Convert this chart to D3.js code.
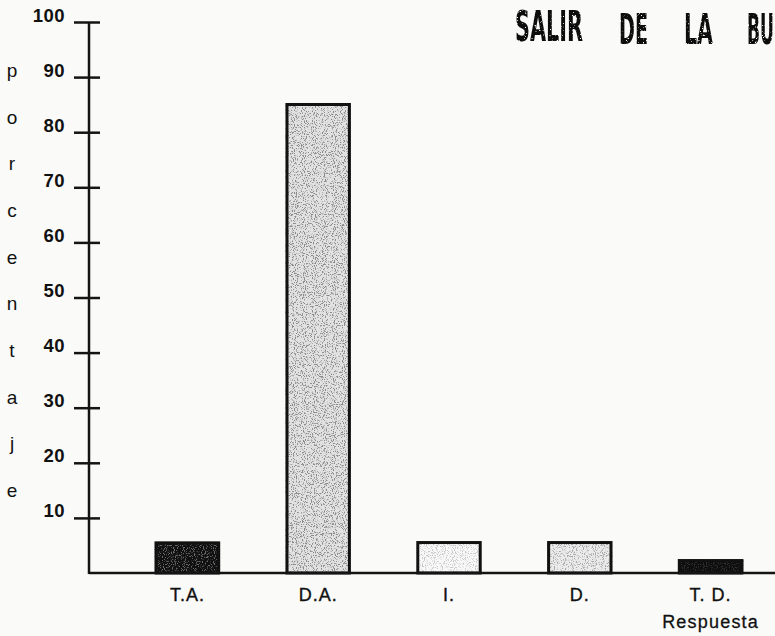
<!DOCTYPE html>
<html>
<head>
<meta charset="utf-8">
<script src="https://cdn.jsdelivr.net/npm/d3@7/dist/d3.min.js"></script>
<style>
  html, body { margin: 0; padding: 0; background: #fafaf8; }
  svg { display: block; }
  text { font-family: "Liberation Sans", Arial, sans-serif; fill: #111; }
</style>
</head>
<body>
<svg id="chart" width="775" height="636"></svg>
<script>
// Answer categories and their percentages
const categories = ["T.A.", "D.A.", "I.", "D.", "T. D."];
const values = [5.7, 85.3, 5.8, 5.8, 2.5];
const yTicks = [10, 20, 30, 40, 50, 60, 70, 80, 90, 100];
const yTitleLetters = ["p", "o", "r", "c", "e", "n", "t", "a", "j", "e"];
const xTitle = "Respuesta";
const titleWords = ["SALIR", "DE", "LA", "BU"];

// Styling for each bar (fill tone and stipple tone)
const barFills = ["#101010", "#e2e2e2", "#f8f8f8", "#ebebeb", "#0e0e0e"];
const stippleTone = ["#6a6a6a", "#8a8a8a", "#c8c8c8", "#a8a8a8", "#303030"];

const W = 775, H = 636;
const axisX = 89;
const svg = d3.select("#chart");

// Filters: speckled print for the heading and stipple for the bar fills
const defs = svg.append("defs");
const grunge = defs.append("filter").attr("id", "grunge")
  .attr("x", "-5%").attr("y", "-5%").attr("width", "110%").attr("height", "110%");
grunge.append("feTurbulence").attr("type", "fractalNoise")
  .attr("baseFrequency", "0.6").attr("numOctaves", 2).attr("seed", 7).attr("result", "noise");
grunge.append("feColorMatrix").attr("in", "noise").attr("type", "matrix")
  .attr("values", "0 0 0 0 1  0 0 0 0 1  0 0 0 0 1  9 0 0 0 -5.8").attr("result", "holes");
grunge.append("feComposite").attr("in", "SourceGraphic").attr("in2", "holes").attr("operator", "out");

const stip = defs.append("filter").attr("id", "stipple")
  .attr("x", "0").attr("y", "0").attr("width", "1").attr("height", "1");
stip.append("feTurbulence").attr("type", "fractalNoise")
  .attr("baseFrequency", "0.9").attr("numOctaves", 2).attr("seed", 3).attr("result", "noise");
stip.append("feColorMatrix").attr("in", "noise").attr("type", "matrix")
  .attr("values", "0 0 0 0 0  0 0 0 0 0  0 0 0 0 0  7 0 0 0 -3.7").attr("result", "dots");
stip.append("feComposite").attr("in", "SourceGraphic").attr("in2", "dots").attr("operator", "in");

// Scales
const x = d3.scaleBand().domain(categories).range([122, 776])
  .paddingInner(0.5).paddingOuter(0.25);
const y = d3.scaleLinear().domain([0, 100]).range([573, 22]);

// Heading: heavy condensed words, squeezed horizontally to their slots
const titleX = [515, 619, 684, 747];
const titleW = [68, 29, 29, 27];
const titleBase = [41, 44, 44, 44];
svg.append("g").attr("filter", "url(#grunge)")
  .selectAll("text").data(titleWords).join("text")
  .attr("x", 0).attr("y", 0)
  .style("font-family", "'DejaVu Sans Condensed', 'Liberation Sans Narrow', sans-serif")
  .style("font-weight", "bold").style("font-size", "43px")
  .style("fill", "#0c0c0c")
  .text(d => d)
  .each(function (d, i) {
    const w = this.getComputedTextLength();
    d3.select(this).attr("transform",
      `translate(${titleX[i]},${titleBase[i]}) scale(${titleW[i] / w},1)`);
  });

// Vertical axis title, one letter per line
const letterY = d3.scalePoint().domain(d3.range(yTitleLetters.length)).range([77, 497]);
svg.append("g").selectAll("text").data(yTitleLetters).join("text")
  .attr("x", 12).attr("y", (d, i) => letterY(i))
  .attr("text-anchor", "middle")
  .style("font-size", "19px")
  .text(d => d);

// Bars
const bars = svg.append("g");
bars.selectAll("rect.fill").data(values).join("rect").attr("class", "fill")
  .attr("x", (d, i) => x(categories[i]))
  .attr("y", d => y(d))
  .attr("width", x.bandwidth())
  .attr("height", d => y(0) - y(d))
  .attr("fill", (d, i) => barFills[i]);
bars.selectAll("rect.dots").data(values).join("rect").attr("class", "dots")
  .attr("x", (d, i) => x(categories[i]))
  .attr("y", d => y(d))
  .attr("width", x.bandwidth())
  .attr("height", d => y(0) - y(d))
  .attr("fill", (d, i) => stippleTone[i])
  .attr("filter", "url(#stipple)");
bars.selectAll("rect.edge").data(values).join("rect").attr("class", "edge")
  .attr("x", (d, i) => x(categories[i]) + 1.5)
  .attr("y", d => y(d) + 1.5)
  .attr("width", x.bandwidth() - 3)
  .attr("height", d => y(0) - y(d) - 1.5)
  .attr("fill", "none")
  .attr("stroke", "#111")
  .attr("stroke-width", 3);

// Y axis with ticks crossing the axis line
const yAxis = svg.append("g").attr("transform", `translate(${axisX},0)`)
  .call(d3.axisLeft(y).tickValues(yTicks).tickSize(15).tickPadding(9));
yAxis.select(".domain").remove();
yAxis.selectAll(".tick line").attr("x1", 11).attr("stroke", "#141414").attr("stroke-width", 2.5);
yAxis.selectAll(".tick text")
  .attr("dy", 0).attr("y", -1)
  .style("font-family", "'Liberation Sans', Arial, sans-serif")
  .style("font-size", "18.5px").style("font-weight", "bold")
  .style("letter-spacing", "0.5px")
  .attr("fill", "#111");
svg.append("line")
  .attr("x1", axisX).attr("x2", axisX)
  .attr("y1", y(100)).attr("y2", y(0) + 1)
  .attr("stroke", "#141414").attr("stroke-width", 2.5);

// Baseline and category labels
const xAxis = svg.append("g").attr("transform", `translate(0,${y(0)})`)
  .call(d3.axisBottom(x).tickSize(0).tickPadding(0));
xAxis.select(".domain").attr("d", `M${axisX},0H${W}`)
  .attr("stroke", "#141414").attr("stroke-width", 2.5);
xAxis.selectAll(".tick text")
  .attr("dy", 0).attr("y", 28)
  .style("font-family", "'Liberation Sans', Arial, sans-serif")
  .style("font-size", "18px").style("letter-spacing", "1px")
  .style("stroke", "#111").style("stroke-width", "0.35px")
  .attr("fill", "#111");

svg.append("text")
  .attr("x", x(categories[4]) + x.bandwidth() / 2).attr("y", 628)
  .attr("text-anchor", "middle")
  .style("font-size", "18px").style("letter-spacing", "1.2px")
  .style("stroke", "#111").style("stroke-width", "0.3px")
  .text(xTitle);
</script>
</body>
</html>
